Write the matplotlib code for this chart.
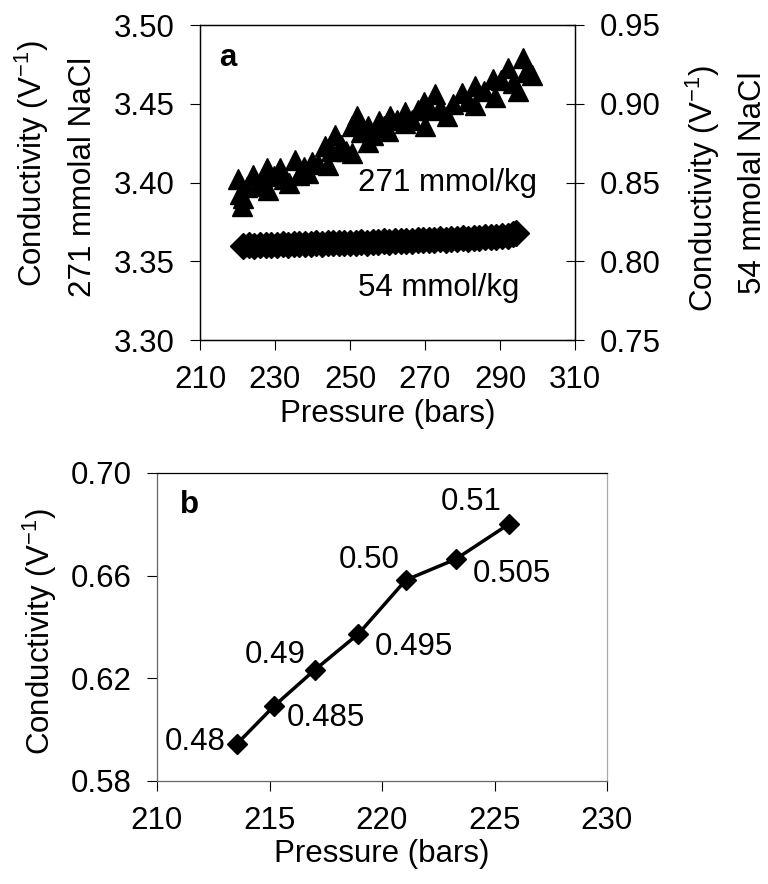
import matplotlib.pyplot as plt

plt.rcParams['font.family'] = ['Liberation Sans', 'DejaVu Sans']
plt.rcParams['font.size'] = 22.5
plt.rcParams['mathtext.fontset'] = 'custom'
plt.rcParams['mathtext.rm'] = 'Liberation Sans'
plt.rcParams['mathtext.it'] = 'Liberation Sans'

# panel a: 271 mmol/kg (left axis)
p_271 = [220.2, 220.6, 221.1, 221.5, 222.5, 224.2, 225.5, 226.5, 227.8, 228.2,
         229.8, 231.3, 232.5, 233.6, 235.3, 236.5, 237.8, 238.9, 239.8, 241.5,
         243.3, 244.2, 245.0, 246.0, 247.5, 248.8, 250.4, 250.5, 251.8, 253.0,
         254.9, 254.9, 256.2, 257.6, 259.0, 260.2, 260.7, 262.5, 264.7, 264.7,
         266.5, 268.0, 269.6, 270.0, 271.2, 272.7, 274.0, 275.8, 277.5, 279.8,
         281.5, 283.3, 283.3, 285.8, 288.2, 288.7, 290.2, 292.2, 293.5, 294.9,
         296.2, 297.0, 298.5]
c_271 = [3.402, 3.393, 3.385, 3.390, 3.397, 3.405, 3.398, 3.402, 3.409, 3.395,
         3.404, 3.409, 3.402, 3.400, 3.414, 3.405, 3.410, 3.406, 3.413, 3.412,
         3.423, 3.411, 3.420, 3.430, 3.424, 3.420, 3.419, 3.436, 3.442, 3.432,
         3.436, 3.426, 3.430, 3.439, 3.436, 3.433, 3.442, 3.440, 3.445, 3.438,
         3.440, 3.446, 3.451, 3.436, 3.446, 3.456, 3.447, 3.442, 3.450, 3.457,
         3.452, 3.461, 3.449, 3.458, 3.466, 3.454, 3.465, 3.473, 3.463, 3.458,
         3.479, 3.470, 3.468]

# panel a: 54 mmol/kg (right axis)
p_54 = [221.5, 223.0, 224.5, 226.0, 227.5, 229.0, 230.5, 232.0, 233.5, 235.0,
        236.5, 238.0, 239.5, 241.0, 242.5, 244.0, 245.5, 247.0, 248.5, 250.0,
        251.5, 253.0, 254.5, 256.0, 257.5, 259.0, 260.5, 262.0, 263.5, 265.0,
        266.5, 268.0, 269.5, 271.0, 272.5, 274.0, 275.5, 277.0, 278.5, 280.0,
        281.5, 283.0, 284.5, 286.0, 287.5, 289.0, 290.5, 292.0, 293.5, 294.3]
c_54 = [0.8097, 0.8100, 0.8098, 0.8103, 0.8100, 0.8105, 0.8103, 0.8107, 0.8105, 0.8109,
        0.8107, 0.8111, 0.8109, 0.8113, 0.8111, 0.8115, 0.8113, 0.8117, 0.8115, 0.8119,
        0.8117, 0.8121, 0.8119, 0.8123, 0.8122, 0.8126, 0.8124, 0.8128, 0.8127, 0.8131,
        0.8129, 0.8133, 0.8132, 0.8136, 0.8135, 0.8139, 0.8138, 0.8142, 0.8141, 0.8145,
        0.8144, 0.8148, 0.8147, 0.8152, 0.8151, 0.8156, 0.8158, 0.8163, 0.8170, 0.8178]

# panel b
p_b = [213.57, 215.2, 217.0, 218.95, 221.06, 223.27, 225.66]
c_b = [0.5946, 0.6092, 0.6232, 0.6373, 0.6583, 0.6664, 0.6802]
lab_b = ['0.48', '0.485', '0.49', '0.495', '0.50', '0.505', '0.51']
off_b = [(-42, 2), (52, -12), (-39, 15), (56, -13), (-37, 20), (56, -15), (-38, 22)]

W, H = 768, 884
fig = plt.figure(figsize=(W / 100, H / 100), dpi=100)


def box(l, t, r, b):
    return [l / W, 1 - b / H, (r - l) / W, (b - t) / H]


# ---- panel a ----
ax = fig.add_axes(box(200, 25, 575, 340))
ax.plot(p_271, c_271, ls='none', marker='^', ms=15, color='black')
ax.set_xlim(210, 310)
ax.set_ylim(3.30, 3.50)
ax.set_xticks([210, 230, 250, 270, 290, 310])
ax.set_yticks([3.30, 3.35, 3.40, 3.45, 3.50])
ax.set_yticklabels(['3.30', '3.35', '3.40', '3.45', '3.50'])
ax.tick_params(direction='out', length=7, width=0.8, pad=11)
ax.set_xlabel('Pressure (bars)', labelpad=3)
ax.text(0.075, 0.895, 'a', transform=ax.transAxes, fontweight='bold',
        ha='center', va='center')
ax.text(275.9, 3.3997, '271 mmol/kg', ha='center', va='center')
ax.text(273.7, 3.3328, '54 mmol/kg', ha='center', va='center')

ax2 = ax.twinx()
ax2.plot(p_54, c_54, ls='none', marker='D', ms=13.5, color='black')
ax2.set_ylim(0.75, 0.95)
ax2.set_yticks([0.75, 0.80, 0.85, 0.90, 0.95])
ax2.set_yticklabels(['0.75', '0.80', '0.85', '0.90', '0.95'])
ax2.tick_params(direction='inout', length=13, width=0.8, pad=11)

for a in (ax, ax2):
    for s in a.spines.values():
        s.set_linewidth(0.9)

fig.text(32 / W, 1 - 164 / H, 'Conductivity (V$^{-1}$)', rotation=90,
         ha='center', va='center')
fig.text(83 / W, 1 - 177 / H, '271 mmolal NaCl', rotation=90,
         ha='center', va='center')
fig.text(703 / W, 1 - 189 / H, 'Conductivity (V$^{-1}$)', rotation=90,
         ha='center', va='center')
fig.text(753 / W, 1 - 183 / H, '54 mmolal NaCl', rotation=90,
         ha='center', va='center')

# ---- panel b ----
bx = fig.add_axes(box(157, 473, 607, 781))
bx.plot(p_b, c_b, color='black', lw=2.5, marker='D', ms=10)
for x, y, t, o in zip(p_b, c_b, lab_b, off_b):
    bx.annotate(t, (x, y), xytext=o, textcoords='offset pixels',
                ha='center', va='center')
bx.set_xlim(210, 230)
bx.set_ylim(0.58, 0.70)
bx.set_xticks([210, 215, 220, 225, 230])
bx.set_yticks([0.58, 0.62, 0.66, 0.70])
bx.set_yticklabels(['0.58', '0.62', '0.66', '0.70'])
bx.tick_params(direction='out', length=7, width=0.8, pad=11)
bx.set_xlabel('Pressure (bars)', labelpad=2)
bx.text(0.073, 0.896, 'b', transform=bx.transAxes, fontweight='bold',
        ha='center', va='center')
for k, s in bx.spines.items():
    s.set_linewidth(0.9)
    s.set_color('black' if k == 'top' else '#666666')
bx.spines['right'].set_color('#aaaaaa')

fig.text(40 / W, 1 - 632 / H, 'Conductivity (V$^{-1}$)', rotation=90,
         ha='center', va='center')

fig.savefig('out.png', dpi=100)
